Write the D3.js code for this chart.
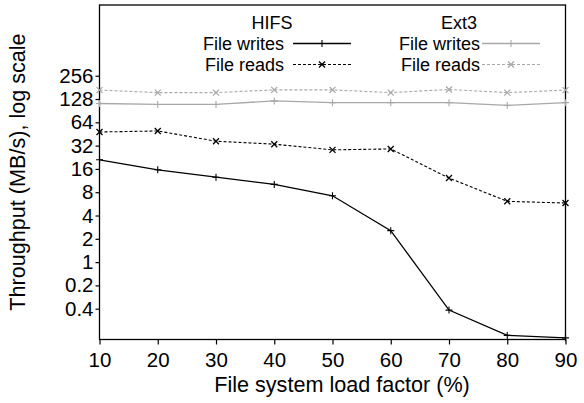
<!DOCTYPE html>
<html><head><meta charset="utf-8">
<script src="https://cdn.jsdelivr.net/npm/d3@7"></script>
<style>
body{margin:0;background:#fff;}
text{font-family:"Liberation Sans",Arial,Helvetica,sans-serif;}
</style></head>
<body><svg id="c" width="584" height="403"></svg>
<script>
const loadFactors = [10,20,30,40,50,60,70,80,90];
const hifsWrites = [21,15.6,12.5,10.1,7.2,2.55,0.24,0.113,0.105];
const hifsReads  = [48,49.5,36.5,33.4,28.2,29,12.2,6.1,5.8];
const ext3Writes = [112,109,109,121,115,115,115,106,115];
const ext3Reads  = [167,155,155,168,168,155,170,155,167];
const yTickValues = [256,128,64,32,16,8,4,2,1,0.5,0.25];
const yTickLabels = ["256","128","64","32","16","8","4","2","1","0.2","0.4"];
const xTickValues = [10,20,30,40,50,60,70,80,90];

const FS_TICK = 20.5, FS_TITLE = 21.6, FS_LEG = 18;
const svg = d3.select("#c");
const L=99.5, R=565.5, T=5, B=339.5;
const x = d3.scaleLinear().domain([10,90]).range([L,R]);
const y = d3.scaleLog().domain([0.1,2100]).range([B,T]);

svg.append("rect").attr("width",584).attr("height",403).attr("fill","#fff");

// frame
svg.append("rect").attr("x",L).attr("y",T).attr("width",R-L).attr("height",B-T)
  .attr("fill","none").attr("stroke","#000").attr("stroke-width",1.3);

// axes
const yAxis = d3.axisLeft(y).tickValues(yTickValues).tickSize(4).tickPadding(2)
  .tickFormat((d,i)=>yTickLabels[i]);
const gy = svg.append("g").attr("transform",`translate(${L},0)`).call(yAxis);
gy.select(".domain").remove();
const xAxis = d3.axisBottom(x).tickValues(xTickValues).tickSize(5).tickPadding(8);
const gx = svg.append("g").attr("transform",`translate(0,${B})`).call(xAxis);
gx.select(".domain").remove();
[gx,gy].forEach(g=>{
  g.selectAll("text").attr("font-size",FS_TICK).attr("fill","#000")
    .style("font-family","'Liberation Sans',Arial,sans-serif");
  g.selectAll("line").attr("stroke","#000").attr("stroke-width",1.2);
});
gx.selectAll("text").attr("dy","0.72em");

// axis titles
svg.append("text").attr("x",342).attr("y",392).attr("text-anchor","middle")
  .attr("font-size",FS_TITLE).text("File system load factor (%)");
svg.append("text").attr("transform","translate(25,172) rotate(-90)").attr("text-anchor","middle")
  .attr("font-size",FS_TITLE).text("Throughput (MB/s), log scale");

const line = d3.line().x((d,i)=>x(loadFactors[i])).y(d=>y(d));

function plus(g, cx, cy, color){
  g.append("path").attr("d",`M${cx-3.5},${cy}H${cx+3.5}M${cx},${cy-3.5}V${cy+3.5}`)
   .attr("stroke",color).attr("stroke-width",1.1).attr("fill","none");
}
function cross(g, cx, cy, color){
  const s=3;
  g.append("path").attr("d",`M${cx-s},${cy-s}L${cx+s},${cy+s}M${cx-s},${cy+s}L${cx+s},${cy-s}`)
   .attr("stroke",color).attr("stroke-width",1.3).attr("fill","none");
}

const series = [
  {vals:ext3Reads, color:"#a8a8a8", dash:"3,2", mark:cross, w:1.1},
  {vals:ext3Writes, color:"#a8a8a8", dash:null, mark:plus, w:1.3},
  {vals:hifsReads, color:"#000", dash:"3,2", mark:cross, w:1.1},
  {vals:hifsWrites, color:"#000", dash:null, mark:plus, w:1.3},
];
series.forEach(s=>{
  const g = svg.append("g");
  g.append("path").datum(s.vals).attr("d",line).attr("fill","none")
   .attr("stroke",s.color).attr("stroke-width",s.w)
   .attr("stroke-dasharray",s.dash);
  s.vals.forEach((v,i)=>s.mark(g,x(loadFactors[i]),y(v),s.color));
});

// legend
const lg = svg.append("g");
function legendTitle(txt,cx){
  lg.append("text").attr("x",cx).attr("y",28.5).attr("text-anchor","middle").attr("font-size",FS_LEG).text(txt);
}
function legendEntry(txt,xEnd,x1,x2,yy,color,dash,mark,w){
  lg.append("text").attr("x",xEnd).attr("y",yy+6.5).attr("text-anchor","end").attr("font-size",FS_LEG).text(txt);
  lg.append("line").attr("x1",x1).attr("x2",x2).attr("y1",yy).attr("y2",yy)
    .attr("stroke",color).attr("stroke-width",w).attr("stroke-dasharray",dash);
  mark(lg,(x1+x2)/2,yy,color);
}
legendTitle("HIFS",272);
legendEntry("File writes",284,293,351,43.5,"#000",null,plus,1.3);
legendEntry("File reads",284,293,351,64.5,"#000","3,2",cross,1.1);
legendTitle("Ext3",459);
legendEntry("File writes",480,482,540,43.5,"#a8a8a8",null,plus,1.3);
legendEntry("File reads",480,482,540,64.5,"#a8a8a8","3,2",cross,1.1);
</script></body></html>
